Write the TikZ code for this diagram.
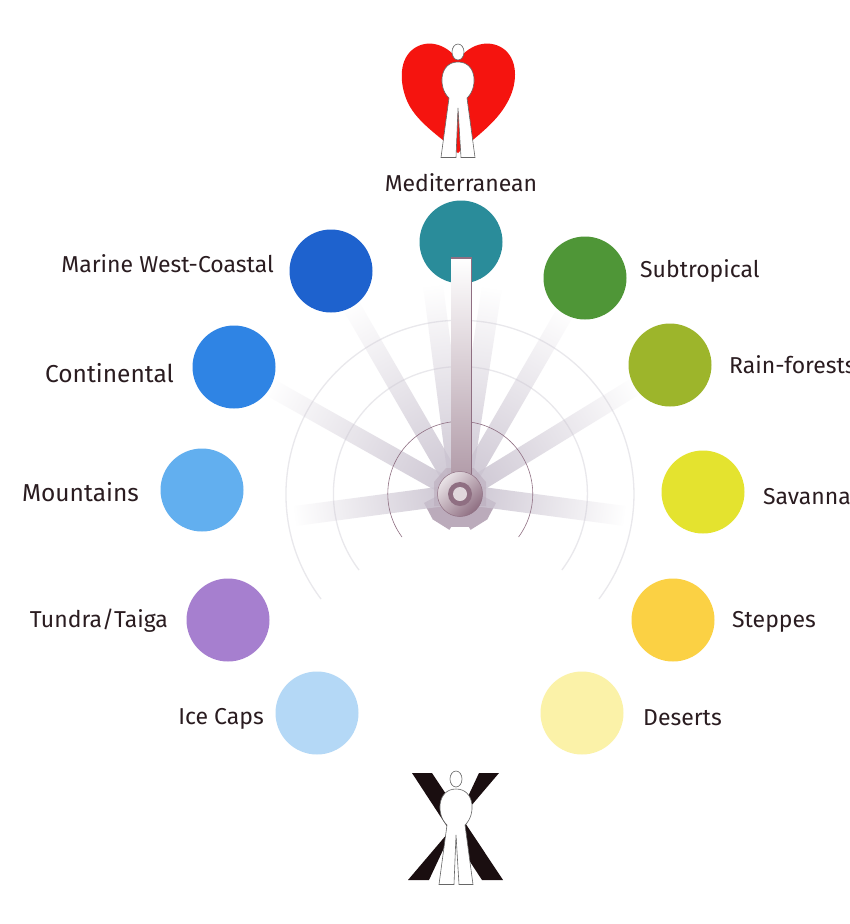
\documentclass[tikz,border=0pt]{standalone}
\usepackage{fontspec}
\setmainfont{Fira Sans}
\usetikzlibrary{calc,fadings}
\definecolor{inkc}{HTML}{2A1C20}
\definecolor{mauve}{HTML}{8F6F82}
\definecolor{spokem}{HTML}{CBC4D1}
\definecolor{barm}{HTML}{DDD7DF}
\definecolor{stubc}{HTML}{BBABBB}
\definecolor{ringc}{HTML}{E9E8EC}
\definecolor{cmed}{HTML}{2A8C9A}
\definecolor{cmar}{HTML}{1E62CE}
\definecolor{csub}{HTML}{4F9637}
\definecolor{ccon}{HTML}{2F84E4}
\definecolor{crai}{HTML}{9DB52B}
\definecolor{cmou}{HTML}{62AFEF}
\definecolor{csav}{HTML}{E4E32F}
\definecolor{ctun}{HTML}{A67FCF}
\definecolor{cste}{HTML}{FBD144}
\definecolor{cice}{HTML}{B4D8F6}
\definecolor{cdes}{HTML}{FBF2A8}
\definecolor{cheart}{HTML}{F5140F}
\definecolor{cblk}{HTML}{1A0E10}
\tikzfading[name=raysoft,left color=transparent!0,middle color=transparent!12,right color=transparent!100]
\tikzset{
  disc/.style={circle,minimum size=83pt,inner sep=0pt,fill=#1},
  lab/.style={text=inkc,font=\fontsize{23}{26}\selectfont,inner sep=0pt},
  labw/.style={text=inkc,font=\fontsize{24.5}{27}\selectfont,inner sep=0pt},
  lightarc/.style={draw=ringc,line width=1.3pt},
  darkarc/.style={draw=mauve,line width=0.6pt},
  figline/.style={draw=black!60,line width=0.6pt,fill=white},
  person/.pic={
    \path[figline] (0,52) ellipse [x radius=6pt,y radius=8pt];
    \path[figline] (-9,98) -- (-17,157.5) -- (-2,157.5) -- (0,108) -- (3,157.5) -- (17,157.5) -- (9,98)
       .. controls (20,88) and (19,62) .. (0,62) .. controls (-19,62) and (-20,88) .. (-9,98) -- cycle;
  }
}
\newcommand{\rayto}[3]{% target, length, half width
  \pgfmathanglebetweenpoints{\pgfpointanchor{hub}{center}}{\pgfpointanchor{#1}{center}}
  \let\rayang\pgfmathresult
  \begin{scope}[transform canvas={shift={(hub)},rotate=\rayang}]
    \fill[spokem,path fading=raysoft] (0pt,-#3pt) rectangle (#2pt,#3pt);
  \end{scope}}
\newcommand{\stubat}[3]{% canvas angle, length, half width
  \begin{scope}[transform canvas={shift={(hub)},rotate=#1}]
    \fill[stubc] (0pt,-#3pt) rectangle (#2pt,#3pt);
  \end{scope}}
\begin{document}
\begin{tikzpicture}[x=1pt,y=-1pt]
\useasboundingbox (0,0) rectangle (850,924);
\fill[white] (0,0) rectangle (850,924);
\node[circle,minimum size=44pt,inner sep=0pt] (hub) at (460,494) {};
% rings
\draw[lightarc] ($(hub)+(-139,105)$) arc [start angle=217,end angle=-37,radius=174pt];
\draw[lightarc] ($(hub)+(-101,76)$) arc [start angle=217,end angle=-37,radius=127pt];
% positions that the rays aim at
\coordinate (medl) at (433,285);
\coordinate (medr) at (492,287);
\coordinate (moul) at (295,516);
\coordinate (savr) at (625,516);
\coordinate (pmar) at (331,271);
\coordinate (psub) at (585,278);
\coordinate (pcon) at (234,367);
\coordinate (prai) at (670,365);
% stubs under the hub
\stubat{-152}{36}{9}
\stubat{-122}{36}{10}
\stubat{-90}{33}{12}
\stubat{-90}{25}{20}
\stubat{-58}{36}{10}
\stubat{-28}{36}{9}
% rays
\rayto{pmar}{218}{9}
\rayto{medl}{210}{10}
\rayto{medr}{208}{10}
\rayto{psub}{212}{9}
\rayto{pcon}{218}{9}
\rayto{prai}{207}{9}
\rayto{moul}{167}{10}
\rayto{savr}{166}{10}
% darker inner part of the rays, next to the hub
\fill[stubc,opacity=.55] ($(hub)+(-14,-26)$) -- ($(hub)+(14,-26)$) -- ($(hub)+(26,-12)$) -- ($(hub)+(26,12)$) -- ($(hub)+(-26,12)$) -- ($(hub)+(-26,-12)$) -- cycle;
% discs
\node[disc=cmed] (med) at (461,242) {};
\node[disc=cmar] (mar) at (pmar) {};
\node[disc=csub] (sub) at (psub) {};
\node[disc=ccon] (con) at (pcon) {};
\node[disc=crai] (rai) at (prai) {};
\node[disc=cmou] (mou) at (202,490) {};
\node[disc=csav] (sav) at (703,492) {};
\node[disc=ctun] (tun) at (228,620) {};
\node[disc=cste] (ste) at (673,620) {};
\node[disc=cice] (ice) at (317,713) {};
\node[disc=cdes] (des) at (582,713) {};
% thin arc
\draw[darkarc] ($(hub)+(-58,43)$) arc [start angle=216.5,end angle=-36.5,radius=72.5pt];
% central bar
\fill[top color=white,middle color=barm,bottom color=mauve!70] (451,258) rectangle (471,480);
\draw[mauve,line width=1.2pt] (451,258) -- (471.5,258) -- (471.5,480);
% hub
\draw[mauve,line width=0.5pt,left color=white!80!mauve,right color=mauve,shading angle=45] (hub) circle (22.5pt);
\fill[mauve] (hub) circle (12pt);
\fill[white!72!mauve] (hub) circle (7pt);
% heart
\fill[cheart] (458,60) .. controls (445,42) and (425,39) .. (412,50)
  .. controls (398,62) and (400,86) .. (408,103)
  .. controls (418,124) and (445,140) .. (458,153)
  .. controls (471,140) and (495,125) .. (507,103)
  .. controls (517,86) and (519,62) .. (505,50)
  .. controls (492,39) and (471,42) .. (458,60) -- cycle;
\pic at (458,0) {person};
% X
\fill[cblk] (412,773) -- (432,773) -- (503,880) -- (482,880) -- cycle;
\fill[cblk] (499,773) -- (479,773) -- (429,880) -- (408,880) -- cycle;
\pic at (456,727) {person};
% labels
\node[lab] (lmed) at (461,183) {Mediterranean};
\node[lab,anchor=east] (lmar) at (274,264) {Marine West-Coastal};
\node[lab,anchor=west] (lsub) at (640,271) {Subtropical};
\node[labw,anchor=east] (lcon) at (174,373) {Continental};
\node[lab,anchor=west] (lrai) at (729,365) {Rain-forests};
\node[labw,anchor=east] (lmou) at (139,492) {Mountains};
\node[lab,anchor=west] (lsav) at (763,497) {Savanna};
\node[lab,anchor=east] (ltun) at (168,621) {Tundra/Taiga};
\node[lab,anchor=west] (lste) at (732,622) {Steppes};
\node[lab,anchor=east] (lice) at (264,719) {Ice Caps};
\node[lab,anchor=west] (ldes) at (643,718) {Deserts};
\end{tikzpicture}
\end{document}
